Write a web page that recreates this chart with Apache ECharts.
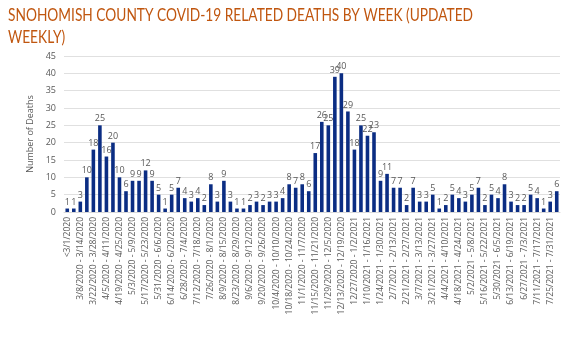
<!DOCTYPE html>
<html>
<head>
<meta charset="utf-8">
<script src="https://cdn.jsdelivr.net/npm/echarts@6/dist/echarts.min.js"></script>
<style>
html,body{margin:0;padding:0;background:#fff;}
#c{width:568px;height:347px;}
</style>
</head>
<body>
<div id="c"></div>
<script>
const titleLines = ["SNOHOMISH COUNTY COVID-19 RELATED DEATHS BY WEEK (UPDATED", "WEEKLY)"];
const yAxisName = "Number of Deaths";
const categories = [
  "<3/1/2020","3/1/2020 - 3/7/2020","3/8/2020 - 3/14/2020","3/15/2020 - 3/21/2020","3/22/2020 - 3/28/2020",
  "3/29/2020 - 4/4/2020","4/5/2020 - 4/11/2020","4/12/2020 - 4/18/2020","4/19/2020 - 4/25/2020","4/26/2020 - 5/2/2020",
  "5/3/2020 - 5/9/2020","5/10/2020 - 5/16/2020","5/17/2020 - 5/23/2020","5/24/2020 - 5/30/2020","5/31/2020 - 6/6/2020",
  "6/7/2020 - 6/13/2020","6/14/2020 - 6/20/2020","6/21/2020 - 6/27/2020","6/28/2020 - 7/4/2020","7/5/2020 - 7/11/2020",
  "7/12/2020 - 7/18/2020","7/19/2020 - 7/25/2020","7/26/2020 - 8/1/2020","8/2/2020 - 8/8/2020","8/9/2020 - 8/15/2020",
  "8/16/2020 - 8/22/2020","8/23/2020 - 8/29/2020","8/30/2020 - 9/5/2020","9/6/2020 - 9/12/2020","9/13/2020 - 9/19/2020",
  "9/20/2020 - 9/26/2020","9/27/2020 - 10/3/2020","10/4/2020 - 10/10/2020","10/11/2020 - 10/17/2020","10/18/2020 - 10/24/2020",
  "10/25/2020 - 10/31/2020","11/1/2020 - 11/7/2020","11/8/2020 - 11/14/2020","11/15/2020 - 11/21/2020","11/22/2020 - 11/28/2020",
  "11/29/2020 - 12/5/2020","12/6/2020 - 12/12/2020","12/13/2020 - 12/19/2020","12/20/2020 - 12/26/2020","12/27/2020 - 1/2/2021",
  "1/3/2021 - 1/9/2021","1/10/2021 - 1/16/2021","1/17/2021 - 1/23/2021","1/24/2021 - 1/30/2021","1/31/2021 - 2/6/2021",
  "2/7/2021 - 2/13/2021","2/14/2021 - 2/20/2021","2/21/2021 - 2/27/2021","2/28/2021 - 3/6/2021","3/7/2021 - 3/13/2021",
  "3/14/2021 - 3/20/2021","3/21/2021 - 3/27/2021","3/28/2021 - 4/3/2021","4/4/2021 - 4/10/2021","4/11/2021 - 4/17/2021",
  "4/18/2021 - 4/24/2021","4/25/2021 - 5/1/2021","5/2/2021 - 5/8/2021","5/9/2021 - 5/15/2021","5/16/2021 - 5/22/2021",
  "5/23/2021 - 5/29/2021","5/30/2021 - 6/5/2021","6/6/2021 - 6/12/2021","6/13/2021 - 6/19/2021","6/20/2021 - 6/26/2021",
  "6/27/2021 - 7/3/2021","7/4/2021 - 7/10/2021","7/11/2021 - 7/17/2021","7/18/2021 - 7/24/2021","7/25/2021 - 7/31/2021",
  "8/1/2021 - 8/7/2021"
];
const deaths = [
  1,1,3,10,18,25,16,20,10,6,
  9,9,12,9,5,1,5,7,4,3,
  4,2,8,3,9,3,1,1,2,3,
  2,3,3,4,8,7,8,6,17,26,
  25,39,40,29,18,25,22,23,9,11,
  7,7,2,7,3,3,5,1,2,5,
  4,3,5,7,2,5,4,8,3,2,
  2,5,4,1,3,6
];
const yTicks = {min:0, max:45, interval:5};

const titleFont = "17px Lato";
const cv = document.createElement('canvas').getContext('2d');
cv.font = titleFont;
const w1 = cv.measureText(titleLines[0]).width;
const titleScale = 465 / w1;

const chart = echarts.init(document.getElementById('c'), null, {renderer:'canvas'});
chart.setOption({
  animation:false,
  graphic:[{
    type:'text', left:8, top:5, scaleX:titleScale, originX:0, originY:0,
    style:{text:titleLines.join('\n'), font:titleFont, fill:'#C0560F', lineHeight:22}
  }],
  grid:{left:64, right:8, top:56, bottom:135, containLabel:false, outerBoundsMode:'none'},
  xAxis:{
    type:'category', data:categories,
    axisLine:{lineStyle:{color:'#d9d9d9'}},
    axisTick:{show:false},
    axisLabel:{interval:1, rotate:90, fontSize:8.5, fontFamily:'Open Sans', color:'#595959', margin:5}
  },
  yAxis:{
    type:'value', min:yTicks.min, max:yTicks.max, interval:yTicks.interval,
    name:yAxisName, nameLocation:'middle', nameGap:24, nameRotate:90,
    nameTextStyle:{fontSize:9, fontFamily:'Open Sans', color:'#595959'},
    axisLine:{show:false}, axisTick:{show:false},
    axisLabel:{fontSize:9, fontFamily:'Open Sans', color:'#595959', margin:8},
    splitLine:{lineStyle:{color:'#e0e0e0'}}
  },
  series:[{
    type:'bar', data:deaths, barCategoryGap:'45%',
    itemStyle:{color:'#0B2D83'},
    label:{show:true, position:'top', distance:2, fontSize:9, fontFamily:'Open Sans', color:'#595959'}
  }]
});
</script>
</body>
</html>
